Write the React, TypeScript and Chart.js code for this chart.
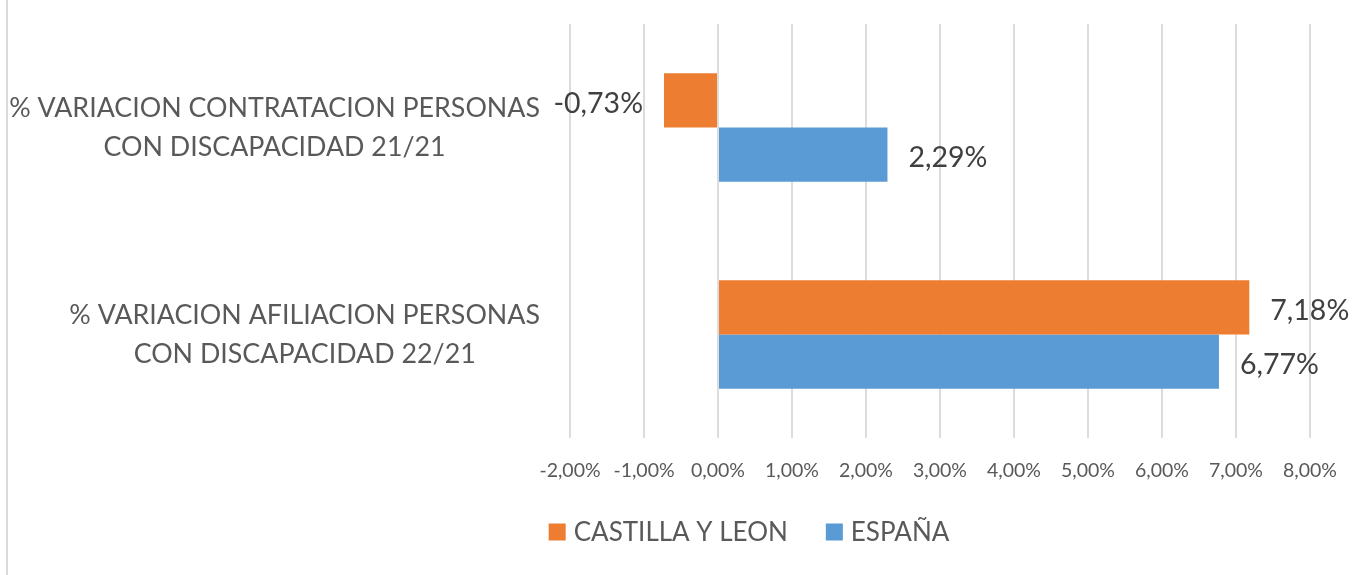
import { useEffect, useRef } from 'react';
import { Chart, registerables } from 'chart.js';

Chart.register(...registerables);

// ---- data ----
const categories: string[][] = [
  ['% VARIACION CONTRATACION PERSONAS', 'CON DISCAPACIDAD 21/21'],
  ['% VARIACION AFILIACION PERSONAS', 'CON DISCAPACIDAD 22/21'],
];
const seriesNames = ['CASTILLA Y LEON', 'ESPAÑA'];
const castillaYLeon = [-0.73, 7.18];
const espana = [2.29, 6.77];
const xMin = -2;
const xMax = 8;
const xStep = 1;

// ---- style ----
const ORANGE = '#ED7D31';
const BLUE = '#5B9BD5';
const TEXT = '#595959';
const LABEL_TEXT = '#404040';
const FONT = 'Lato, "Noto Sans", sans-serif';
const CAT_SIZE = 26.8;
const VALUE_SIZE = 28.5;
const LEGEND_SIZE = 26;
const SMALL = 19.5;

const fmt = (v: number) => v.toFixed(2).replace('.', ',') + '%';

const categoryLabelPlugin = {
  id: 'categoryLabels',
  afterDraw(chart: any) {
    const ys = chart.scales.y;
    const ctx = chart.ctx;
    ctx.save();
    ctx.font = `${CAT_SIZE}px ${FONT}`;
    ctx.fillStyle = TEXT;
    ctx.textBaseline = 'middle';
    ctx.textAlign = 'center';
    const right = chart.chartArea.left - 30;
    const lh = 39;
    (chart.data.labels as string[][]).forEach((lines, i) => {
      const w = Math.max(...lines.map((l) => ctx.measureText(l).width));
      const cx = right - w / 2;
      const cy = ys.getPixelForValue(i);
      const start = cy - ((lines.length - 1) * lh) / 2;
      lines.forEach((l, j) => ctx.fillText(l, cx, start + j * lh));
    });
    ctx.restore();
  },
};

const valueLabelPlugin = {
  id: 'valueLabels',
  afterDatasetsDraw(chart: any) {
    const ctx = chart.ctx;
    ctx.save();
    ctx.font = `${VALUE_SIZE}px ${FONT}`;
    ctx.fillStyle = LABEL_TEXT;
    ctx.textBaseline = 'middle';
    chart.data.datasets.forEach((ds: any, di: number) => {
      const meta = chart.getDatasetMeta(di);
      meta.data.forEach((el: any, i: number) => {
        const v = ds.data[i] as number;
        if (v >= 0) {
          ctx.textAlign = 'left';
          ctx.fillText(fmt(v), el.x + 21, el.y + 3);
        } else {
          ctx.textAlign = 'right';
          ctx.fillText(fmt(v), el.x - 21, el.y + 3);
        }
      });
    });
    ctx.restore();
  },
};

const legendPlugin = {
  id: 'customLegend',
  afterDraw(chart: any) {
    const ctx = chart.ctx;
    ctx.save();
    ctx.font = `${LEGEND_SIZE}px ${FONT}`;
    ctx.textBaseline = 'middle';
    ctx.textAlign = 'left';
    const box = 17;
    const gap = 8;
    const itemGap = 38;
    const items = chart.data.datasets.map((ds: any) => ({
      text: ds.label as string,
      color: ds.backgroundColor as string,
      w: ctx.measureText(ds.label).width,
    }));
    const total =
      items.reduce((s: number, it: any) => s + box + gap + it.w, 0) +
      itemGap * (items.length - 1);
    let x = 749 - total / 2;
    const cy = 532;
    items.forEach((it: any) => {
      ctx.fillStyle = it.color;
      ctx.fillRect(x, cy - box / 2, box, box);
      x += box + gap;
      ctx.fillStyle = TEXT;
      ctx.fillText(it.text, x, cy + 1);
      x += it.w + itemGap;
    });
    ctx.restore();
  },
};

export default function App() {
  const ref = useRef<HTMLCanvasElement | null>(null);

  useEffect(() => {
    document.body.style.margin = '0';
    if (!ref.current) return;
    Chart.defaults.font.family = FONT;
    const chart = new Chart(ref.current, {
      type: 'bar',
      data: {
        labels: categories,
        datasets: [
          {
            label: seriesNames[0],
            data: castillaYLeon,
            backgroundColor: ORANGE,
            borderWidth: 0,
            categoryPercentage: 0.523,
            barPercentage: 1,
          },
          {
            label: seriesNames[1],
            data: espana,
            backgroundColor: BLUE,
            borderWidth: 0,
            categoryPercentage: 0.523,
            barPercentage: 1,
          },
        ],
      },
      options: {
        indexAxis: 'y',
        responsive: false,
        animation: false,
        layout: { padding: { top: 24, right: 51, bottom: 0, left: 0 } },
        plugins: {
          legend: { display: false },
          tooltip: { enabled: false },
        },
        scales: {
          x: {
            min: xMin,
            max: xMax,
            ticks: {
              stepSize: xStep,
              callback: (v: any) => fmt(Number(v)),
              color: TEXT,
              font: { size: SMALL, family: FONT },
              padding: 21,
              maxRotation: 0,
            },
            grid: { color: '#dcdcdc', lineWidth: 2, drawTicks: false },
            border: { display: false },
            afterFit: (s: any) => {
              s.height = 137;
            },
          },
          y: {
            ticks: { display: false },
            grid: { display: false },
            border: { display: false },
            afterFit: (s: any) => {
              s.width = 570;
            },
          },
        },
      },
      plugins: [categoryLabelPlugin, valueLabelPlugin, legendPlugin],
    });
    return () => chart.destroy();
  }, []);

  return (
    <div style={{ position: 'relative', width: 1361, height: 575, background: '#fff' }}>
      <div
        style={{
          position: 'absolute',
          left: 6,
          top: 0,
          width: 2,
          height: 575,
          background: '#dadada',
        }}
      />
      <canvas ref={ref} width={1361} height={575} style={{ display: 'block' }} />
    </div>
  );
}
